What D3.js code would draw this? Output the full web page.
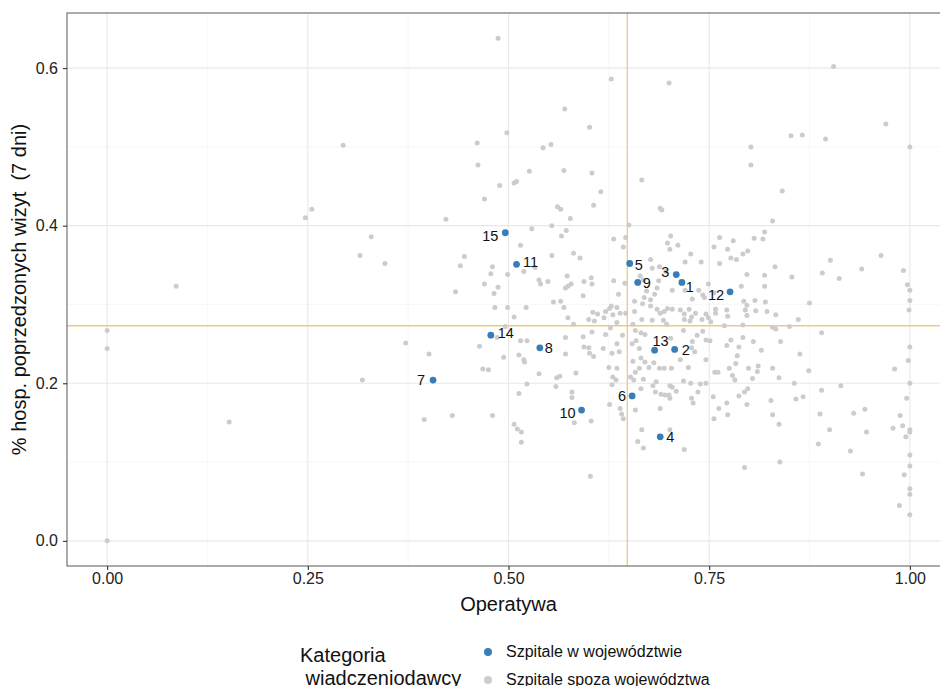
<!DOCTYPE html>
<html>
<head>
<meta charset="utf-8">
<script src="https://cdn.jsdelivr.net/npm/d3@7"></script>
<style>
  html, body { margin: 0; padding: 0; background: #ffffff; }
  svg { display: block; font-family: "Liberation Sans", Arial, Helvetica, sans-serif; }
</style>
</head>
<body>
<svg id="chart" width="940" height="686"></svg>
<script>
// ---------------- data ----------------
const xTicks = [0, 0.25, 0.5, 0.75, 1];
const yTicks = [0, 0.2, 0.4, 0.6];
const xMinor = [0.125, 0.375, 0.625, 0.875];
const yMinor = [0.1, 0.3, 0.5];

const xTitle = "Operatywa";
const yTitle = "% hosp. poprzedzonych wizyt  (7 dni)";
const legendTitle = ["Kategoria", " wiadczeniodawcy"];
const legendLabels = ["Szpitale w województwie", "Szpitale spoza województwa"];

const refX = 0.648;
const refY = 0.273;

// Szpitale w województwie (labelled)
const hospitalIds = [1, 2, 3, 4, 5, 6, 7, 8, 9, 10, 11, 12, 13, 14, 15];
const hospitalX = [0.716, 0.707, 0.709, 0.689, 0.651, 0.654, 0.406, 0.539, 0.661, 0.591, 0.510, 0.776, 0.682, 0.478, 0.496];
const hospitalY = [0.328, 0.243, 0.338, 0.132, 0.352, 0.184, 0.204, 0.245, 0.328, 0.166, 0.351, 0.316, 0.242, 0.261, 0.391];

// Szpitale spoza województwa [operatywa, % hosp.]
const outsidePoints = [
[0.294,0.502],[0.255,0.421],[0.247,0.410],[0.329,0.386],[0.315,0.362],[0.346,0.352],[0.086,0.323],[0,0.267],[0,0.244],[0.372,0.251],[0.401,0.237],[0.318,0.204],[0.152,0.151],[0.395,0.154],[0,0],
[0.487,0.638],[0.628,0.586],[0.570,0.548],[0.601,0.525],[0.498,0.518],[0.461,0.505],[0.543,0.499],[0.553,0.503],[0.462,0.477],[0.526,0.469],[0.569,0.470],[0.604,0.467],[0.489,0.451],[0.507,0.454],[0.510,0.456],[0.615,0.443],[0.470,0.434],
[0.700,0.581],[0.802,0.500],[0.802,0.477],[0.666,0.458],
[0.905,0.602],[0.970,0.529],[0.852,0.514],[0.866,0.515],[0.895,0.510],[1.0,0.500],[0.841,0.444],
[0.561,0.424],[0.565,0.421],[0.606,0.426],[0.422,0.408],[0.577,0.409],[0.529,0.396],[0.554,0.400],[0.572,0.394],[0.566,0.387],[0.515,0.375],[0.631,0.383],[0.445,0.361],[0.440,0.349],[0.480,0.348],[0.554,0.362],[0.581,0.365],[0.589,0.359],[0.533,0.347],[0.519,0.342],[0.499,0.338],[0.478,0.339],[0.573,0.336],[0.603,0.334],[0.538,0.331],[0.540,0.326],[0.549,0.329],[0.470,0.326],[0.487,0.322],[0.574,0.323],[0.571,0.321],[0.578,0.326],[0.594,0.329],[0.604,0.326],[0.434,0.316],[0.482,0.314],[0.593,0.311],[0.556,0.303],[0.565,0.304],[0.628,0.298],[0.483,0.296],[0.499,0.296],[0.522,0.296],[0.569,0.296],[0.605,0.290],[0.611,0.288],[0.621,0.291],[0.626,0.295],[0.507,0.284],[0.574,0.283],[0.600,0.281],[0.607,0.279],[0.619,0.283],[0.630,0.287],[0.581,0.275],[0.496,0.272],[0.627,0.270],[0.486,0.258],[0.604,0.265],[0.571,0.258],[0.593,0.259],[0.621,0.262],[0.515,0.254],[0.523,0.254],[0.464,0.247],[0.594,0.246],[0.600,0.245],[0.618,0.244],[0.513,0.236],[0.494,0.233],[0.519,0.230],[0.520,0.227],[0.571,0.237],[0.606,0.234],[0.601,0.238],[0.629,0.238],[0.625,0.220],[0.468,0.218],[0.475,0.217],[0.538,0.212],[0.560,0.207],[0.564,0.209],[0.584,0.213],
[0.523,0.199],[0.559,0.196],[0.513,0.187],[0.579,0.189],[0.579,0.182],[0.629,0.198],[0.626,0.173],[0.430,0.159],[0.480,0.159],[0.582,0.150],[0.603,0.152],[0.507,0.148],[0.511,0.142],[0.516,0.138],[0.516,0.125],[0.602,0.082],
[0.689,0.422],[0.691,0.420],[0.829,0.406],[0.650,0.401],[0.819,0.392],[0.817,0.383],[0.646,0.385],[0.702,0.387],[0.698,0.378],[0.711,0.375],[0.763,0.385],[0.780,0.381],[0.806,0.384],[0.643,0.373],[0.701,0.370],[0.727,0.364],[0.756,0.373],[0.773,0.370],[0.792,0.364],[0.798,0.368],[0.777,0.359],[0.784,0.357],[0.677,0.357],[0.720,0.354],[0.740,0.354],[0.763,0.352],[0.832,0.348],[0.679,0.346],[0.688,0.348],[0.696,0.342],[0.797,0.338],[0.819,0.337],[0.631,0.330],[0.664,0.336],[0.668,0.331],[0.645,0.327],[0.687,0.330],[0.737,0.318],[0.749,0.326],[0.756,0.315],[0.790,0.323],[0.819,0.323],[0.685,0.321],[0.682,0.313],[0.672,0.317],[0.669,0.309],[0.704,0.318],[0.720,0.318],[0.742,0.312],[0.744,0.309],[0.637,0.313],[0.657,0.304],[0.677,0.306],[0.729,0.307],[0.793,0.304],[0.797,0.299],[0.807,0.305],[0.820,0.303],[0.635,0.296],[0.639,0.289],[0.646,0.289],[0.667,0.301],[0.677,0.298],[0.657,0.291],[0.666,0.281],[0.685,0.294],[0.689,0.289],[0.694,0.291],[0.698,0.295],[0.704,0.294],[0.714,0.293],[0.719,0.288],[0.725,0.294],[0.733,0.289],[0.746,0.288],[0.749,0.283],[0.752,0.278],[0.728,0.284],[0.726,0.279],[0.719,0.281],[0.741,0.281],[0.758,0.294],[0.758,0.289],[0.772,0.293],[0.773,0.285],[0.795,0.293],[0.797,0.286],[0.808,0.292],[0.822,0.291],[0.833,0.287],[0.693,0.280],[0.697,0.275],[0.679,0.280],[0.655,0.275],[0.635,0.277],[0.829,0.271],[0.833,0.269],[0.769,0.273],[0.792,0.274],[0.658,0.267],[0.665,0.264],[0.642,0.261],[0.670,0.262],[0.718,0.267],[0.742,0.266],[0.746,0.255],[0.751,0.254],[0.735,0.261],[0.729,0.253],[0.702,0.257],[0.654,0.250],[0.659,0.254],[0.635,0.250],[0.663,0.244],[0.638,0.240],[0.728,0.245],[0.732,0.240],[0.777,0.255],[0.772,0.248],[0.792,0.258],[0.787,0.246],[0.785,0.235],[0.805,0.253],[0.815,0.242],[0.839,0.253],[0.665,0.232],[0.670,0.227],[0.675,0.220],[0.655,0.228],[0.663,0.219],[0.658,0.214],[0.652,0.208],[0.656,0.204],[0.681,0.226],[0.688,0.219],[0.694,0.219],[0.703,0.219],[0.714,0.230],[0.724,0.220],[0.635,0.219],[0.630,0.208],[0.634,0.204],[0.746,0.230],[0.761,0.214],[0.757,0.214],[0.775,0.219],[0.783,0.225],[0.779,0.210],[0.782,0.204],[0.811,0.222],[0.810,0.215],[0.799,0.219],[0.804,0.206],[0.829,0.219],[0.837,0.207],[0.668,0.205],
[0.665,0.193],[0.680,0.197],[0.684,0.202],[0.683,0.189],[0.690,0.186],[0.695,0.185],[0.701,0.197],[0.704,0.195],[0.709,0.190],[0.701,0.181],[0.700,0.185],[0.718,0.203],[0.727,0.200],[0.736,0.189],[0.739,0.199],[0.746,0.200],[0.728,0.181],[0.730,0.175],[0.639,0.168],[0.641,0.161],[0.643,0.155],[0.658,0.166],[0.689,0.168],[0.755,0.183],[0.762,0.168],[0.756,0.155],[0.772,0.175],[0.773,0.160],[0.787,0.184],[0.794,0.189],[0.798,0.193],[0.797,0.173],[0.827,0.178],[0.829,0.160],[0.837,0.148],[0.666,0.141],[0.701,0.141],[0.661,0.126],[0.668,0.118],[0.719,0.116],[0.794,0.093],[0.838,0.100],
[0.964,0.362],[0.901,0.356],[0.853,0.335],[0.891,0.340],[0.912,0.333],[0.940,0.345],[0.992,0.343],[0.997,0.325],[1.0,0.318],[1.0,0.305],[0.999,0.293],[0.875,0.302],[0.861,0.281],[0.850,0.272],[0.890,0.264],[0.863,0.237],[0.874,0.216],[0.856,0.200],[0.914,0.197],[1.0,0.246],[0.998,0.229],[0.981,0.218],[1.0,0.200],
[0.890,0.191],[0.858,0.180],[0.867,0.183],[0.996,0.181],[0.888,0.161],[0.930,0.162],[0.944,0.167],[0.988,0.159],[0.900,0.141],[0.946,0.138],[0.979,0.143],[0.991,0.146],[1.0,0.141],[1.0,0.138],[0.995,0.132],[0.886,0.123],[0.926,0.114],[1.0,0.109],[1.0,0.095],[0.941,0.085],[0.993,0.084],[1.0,0.066],[1.0,0.059],[0.987,0.045],[1.0,0.033]
];

// ---------------- style / layout ----------------
const labelNudge = [[8,5],[11,1],[-11,-3],[10,0],[9,1],[-10,0],[-12,0],[9,0],[9,1],[-14,3],[14,-2],[-14,3],[6,-9],[15,-2],[-15,3]];
const colBlue = "#377eb8";
const colGray = "#cccccc";
const colRef = "#eccb7f";

const panel = { left: 67, right: 950, top: 13, bottom: 566 };

const svg = d3.select("#chart");

const allX = outsidePoints.map(d => d[0]).concat(hospitalX);
const allY = outsidePoints.map(d => d[1]).concat(hospitalY);
function expand(ext) { const p = (ext[1] - ext[0]) * 0.05; return [ext[0] - p, ext[1] + p]; }

const x = d3.scaleLinear().domain(expand(d3.extent(allX))).range([panel.left, panel.right]);
const y = d3.scaleLinear().domain(expand(d3.extent(allY))).range([panel.bottom, panel.top]);

const defs = svg.append("defs");
defs.append("clipPath").attr("id", "clip").append("rect")
  .attr("x", panel.left).attr("y", panel.top)
  .attr("width", panel.right - panel.left).attr("height", panel.bottom - panel.top);

const plot = svg.append("g").attr("clip-path", "url(#clip)");

// minor grid
plot.selectAll(".gxm").data(xMinor).enter().append("line")
  .attr("x1", d => x(d)).attr("x2", d => x(d)).attr("y1", panel.top).attr("y2", panel.bottom)
  .attr("stroke", "#f2f2f2").attr("stroke-width", 0.6);
plot.selectAll(".gym").data(yMinor).enter().append("line")
  .attr("y1", d => y(d)).attr("y2", d => y(d)).attr("x1", panel.left).attr("x2", panel.right)
  .attr("stroke", "#f2f2f2").attr("stroke-width", 0.6);
// major grid
plot.selectAll(".gx").data(xTicks).enter().append("line")
  .attr("x1", d => x(d)).attr("x2", d => x(d)).attr("y1", panel.top).attr("y2", panel.bottom)
  .attr("stroke", "#e8e8e8").attr("stroke-width", 1.1);
plot.selectAll(".gy").data(yTicks).enter().append("line")
  .attr("y1", d => y(d)).attr("y2", d => y(d)).attr("x1", panel.left).attr("x2", panel.right)
  .attr("stroke", "#e8e8e8").attr("stroke-width", 1.1);

// reference lines
plot.append("line").attr("x1", x(refX)).attr("x2", x(refX)).attr("y1", panel.top).attr("y2", panel.bottom)
  .attr("stroke", colRef).attr("stroke-width", 1.3);
plot.append("line").attr("y1", y(refY)).attr("y2", y(refY)).attr("x1", panel.left).attr("x2", panel.right)
  .attr("stroke", colRef).attr("stroke-width", 1.3);

// gray points
plot.selectAll(".pg").data(outsidePoints).enter().append("circle")
  .attr("cx", d => x(d[0])).attr("cy", d => y(d[1])).attr("r", 2.5)
  .attr("fill", colGray);

// blue points
const hosp = hospitalIds.map((id, i) => ({ id, x: hospitalX[i], y: hospitalY[i], n: labelNudge[i] }));
plot.selectAll(".pb").data(hosp).enter().append("circle")
  .attr("cx", d => x(d.x)).attr("cy", d => y(d.y)).attr("r", 3.4)
  .attr("fill", colBlue);
plot.selectAll(".lb").data(hosp).enter().append("text")
  .attr("x", d => x(d.x) + d.n[0]).attr("y", d => y(d.y) + d.n[1])
  .attr("dy", "0.35em").attr("text-anchor", "middle")
  .attr("font-size", 14.5).attr("fill", "#111")
  .text(d => d.id);

// panel border
svg.append("rect").attr("x", panel.left).attr("y", panel.top)
  .attr("width", panel.right - panel.left).attr("height", panel.bottom - panel.top)
  .attr("fill", "none").attr("stroke", "#666").attr("stroke-width", 1.1);

// axes
const xAxis = svg.append("g").attr("transform", `translate(0,${panel.bottom})`)
  .call(d3.axisBottom(x).tickValues(xTicks).tickFormat(d3.format(".2f")).tickSize(4).tickPadding(3));
const yAxis = svg.append("g").attr("transform", `translate(${panel.left},0)`)
  .call(d3.axisLeft(y).tickValues(yTicks).tickFormat(d3.format(".1f")).tickSize(4).tickPadding(5));
[xAxis, yAxis].forEach(a => {
  a.select(".domain").remove();
  a.selectAll(".tick line").attr("stroke", "#333").attr("stroke-width", 1.1);
  a.selectAll(".tick text").attr("font-size", 16).attr("fill", "#222")
    .attr("font-family", "Liberation Sans, Arial, sans-serif");
});

// axis titles
svg.append("text").attr("x", (panel.left + panel.right) / 2).attr("y", 611)
  .attr("text-anchor", "middle").attr("font-size", 20).attr("fill", "#111").text(xTitle);
svg.append("text").attr("transform", `translate(26,${(panel.top + panel.bottom) / 2}) rotate(-90)`)
  .attr("text-anchor", "middle").attr("font-size", 20).attr("fill", "#111")
  .attr("xml:space", "preserve").style("white-space", "pre").text(yTitle);

// legend
const lg = svg.append("g");
lg.selectAll(".lt").data(legendTitle).enter().append("text")
  .attr("x", 300).attr("y", (d, i) => 662 + i * 22.5)
  .attr("font-size", 20).attr("fill", "#111")
  .attr("xml:space", "preserve").style("white-space", "pre").text(d => d);
const keys = [colBlue, colGray];
lg.selectAll(".lk").data(keys).enter().append("circle")
  .attr("cx", 488).attr("cy", (d, i) => 652 + i * 28).attr("r", 4).attr("fill", d => d);
lg.selectAll(".ll").data(legendLabels).enter().append("text")
  .attr("x", 506).attr("y", (d, i) => 657 + i * 28)
  .attr("font-size", 16).attr("fill", "#111").text(d => d);
</script>
</body>
</html>
